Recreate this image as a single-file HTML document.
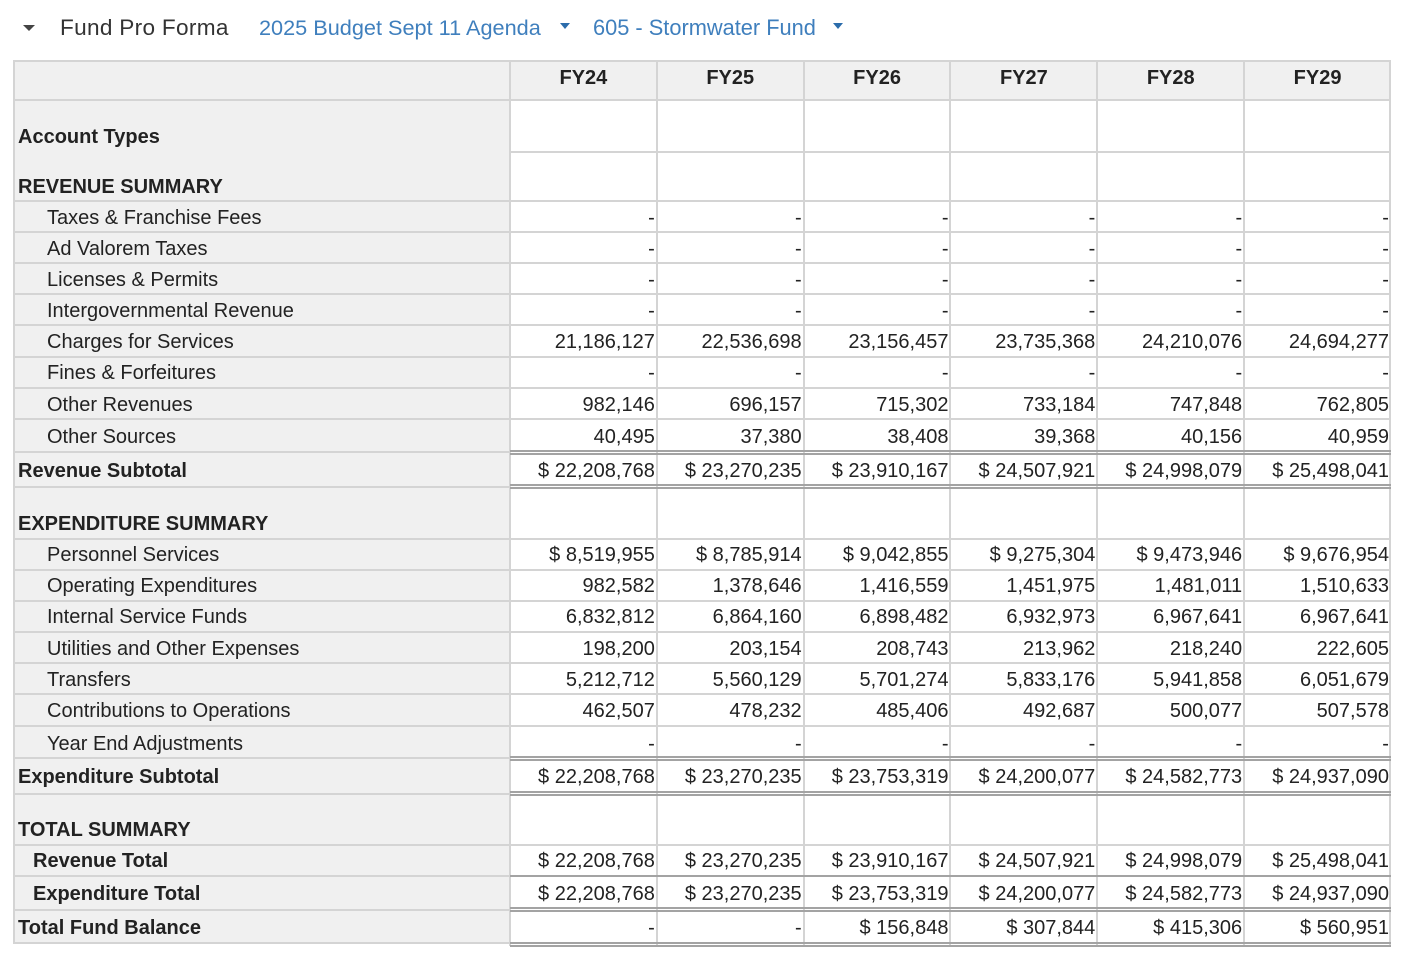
<!DOCTYPE html>
<html><head><meta charset="utf-8">
<style>
html,body{margin:0;padding:0;background:#fff;}
body{width:1410px;height:966px;position:relative;overflow:hidden;font-family:"Liberation Sans",Arial,sans-serif;color:#222;}
.a{position:absolute;}
.hl{position:absolute;height:2px;background:#d4d4d4;}
.vl{position:absolute;width:2px;background:#d4d4d4;}
.dl{position:absolute;left:510px;width:881px;height:2px;background:#a3a3a3;}
.t{position:absolute;height:24px;line-height:24px;font-size:20px;white-space:nowrap;margin-top:1px;}
.b{font-weight:bold;}
.r{position:absolute;left:510px;width:881px;height:24px;line-height:24px;font-size:20px;display:flex;white-space:nowrap;margin-top:1px;}
.r span{flex:0 0 146.83px;box-sizing:border-box;text-align:right;padding-right:2px;}
.h{position:absolute;left:510px;width:881px;height:24px;line-height:24px;font-size:20px;font-weight:bold;display:flex;}
.h span{flex:0 0 146.83px;text-align:center;}
.tri{position:absolute;width:0;height:0;border-left:5px solid transparent;border-right:5px solid transparent;border-top:6px solid #2b6cab;}
</style></head><body>

<!-- header bar -->
<div class="tri" style="left:23px;top:25px;border-top-color:#444;border-left-width:6px;border-right-width:6px;"></div>
<div class="a" style="left:60px;top:14px;font-size:22.6px;line-height:28px;color:#333;letter-spacing:0.3px;">Fund Pro Forma</div>
<div class="a" style="left:259px;top:14px;font-size:21.7px;line-height:28px;color:#3f7fbd;">2025 Budget Sept 11 Agenda</div>
<div class="tri" style="left:560px;top:23px;"></div>
<div class="a" style="left:593px;top:14px;font-size:21.8px;line-height:28px;color:#3f7fbd;">605 - Stormwater Fund</div>
<div class="tri" style="left:833px;top:23px;"></div>

<!-- backgrounds -->
<div class="a" style="left:14px;top:61px;width:1377px;height:39px;background:#f0f0f0;"></div>
<div class="a" style="left:14px;top:61px;width:496px;height:883px;background:#f0f0f0;"></div>

<!-- horizontal light lines -->
<div class="hl" style="left:14px;top:60px;width:1377px;"></div>
<div class="hl" style="left:14px;top:99px;width:1377px;"></div>
<div class="hl" style="left:510px;top:151px;width:881px;"></div>
<div class="hl" style="left:14px;top:200px;width:1377px;"></div>
<div class="hl" style="left:14px;top:231px;width:1377px;"></div>
<div class="hl" style="left:14px;top:262px;width:1377px;"></div>
<div class="hl" style="left:14px;top:293px;width:1377px;"></div>
<div class="hl" style="left:14px;top:324px;width:1377px;"></div>
<div class="hl" style="left:14px;top:356px;width:1377px;"></div>
<div class="hl" style="left:14px;top:387px;width:1377px;"></div>
<div class="hl" style="left:14px;top:418px;width:1377px;"></div>
<div class="hl" style="left:14px;top:451px;width:496px;"></div>
<div class="hl" style="left:14px;top:486px;width:496px;"></div>
<div class="hl" style="left:14px;top:538px;width:1377px;"></div>
<div class="hl" style="left:14px;top:569px;width:1377px;"></div>
<div class="hl" style="left:14px;top:600px;width:1377px;"></div>
<div class="hl" style="left:14px;top:631px;width:1377px;"></div>
<div class="hl" style="left:14px;top:662px;width:1377px;"></div>
<div class="hl" style="left:14px;top:693px;width:1377px;"></div>
<div class="hl" style="left:14px;top:725px;width:1377px;"></div>
<div class="hl" style="left:14px;top:757px;width:496px;"></div>
<div class="hl" style="left:14px;top:793px;width:496px;"></div>
<div class="hl" style="left:14px;top:844px;width:1377px;"></div>
<div class="hl" style="left:14px;top:875px;width:496px;"></div>
<div class="hl" style="left:14px;top:909px;width:496px;"></div>
<div class="hl" style="left:14px;top:942px;width:496px;"></div>

<!-- vertical lines -->
<div class="vl" style="left:13px;top:60px;height:884px;"></div>
<div class="vl" style="left:509px;top:60px;height:886px;"></div>
<div class="vl" style="left:656px;top:60px;height:886px;"></div>
<div class="vl" style="left:803px;top:60px;height:886px;"></div>
<div class="vl" style="left:949px;top:60px;height:886px;"></div>
<div class="vl" style="left:1096px;top:60px;height:886px;"></div>
<div class="vl" style="left:1243px;top:60px;height:886px;"></div>
<div class="vl" style="left:1389px;top:60px;height:886px;"></div>

<!-- dark double lines in data area -->
<div class="dl" style="top:450px;"></div><div class="dl" style="top:453px;"></div>
<div class="dl" style="top:484px;"></div><div class="dl" style="top:487px;"></div>
<div class="dl" style="top:756px;"></div><div class="dl" style="top:759px;"></div>
<div class="dl" style="top:791px;"></div><div class="dl" style="top:794px;"></div>
<div class="dl" style="top:875px;"></div>
<div class="dl" style="top:907px;"></div><div class="dl" style="top:910px;"></div>
<div class="dl" style="top:942px;"></div><div class="dl" style="top:945px;"></div>

<!-- column headers -->
<div class="h" style="top:66px;"><span>FY24</span><span>FY25</span><span>FY26</span><span>FY27</span><span>FY28</span><span>FY29</span></div>

<!-- labels -->
<div class="t b" style="left:18px;top:124px;">Account Types</div>
<div class="t b" style="left:18px;top:174px;">REVENUE SUMMARY</div>
<div class="t" style="left:47px;top:205px;">Taxes &amp; Franchise Fees</div>
<div class="t" style="left:47px;top:236px;">Ad Valorem Taxes</div>
<div class="t" style="left:47px;top:267px;">Licenses &amp; Permits</div>
<div class="t" style="left:47px;top:298px;">Intergovernmental Revenue</div>
<div class="t" style="left:47px;top:329px;">Charges for Services</div>
<div class="t" style="left:47px;top:360px;">Fines &amp; Forfeitures</div>
<div class="t" style="left:47px;top:392px;">Other Revenues</div>
<div class="t" style="left:47px;top:424px;">Other Sources</div>
<div class="t b" style="left:18px;top:458px;">Revenue Subtotal</div>
<div class="t b" style="left:18px;top:511px;">EXPENDITURE SUMMARY</div>
<div class="t" style="left:47px;top:542px;">Personnel Services</div>
<div class="t" style="left:47px;top:573px;">Operating Expenditures</div>
<div class="t" style="left:47px;top:604px;">Internal Service Funds</div>
<div class="t" style="left:47px;top:636px;">Utilities and Other Expenses</div>
<div class="t" style="left:47px;top:667px;">Transfers</div>
<div class="t" style="left:47px;top:698px;">Contributions to Operations</div>
<div class="t" style="left:47px;top:731px;">Year End Adjustments</div>
<div class="t b" style="left:18px;top:764px;">Expenditure Subtotal</div>
<div class="t b" style="left:18px;top:817px;">TOTAL SUMMARY</div>
<div class="t b" style="left:33px;top:848px;">Revenue Total</div>
<div class="t b" style="left:33px;top:881px;">Expenditure Total</div>
<div class="t b" style="left:18px;top:915px;">Total Fund Balance</div>

<!-- data -->
<div class="r" style="top:205px;"><span>-</span><span>-</span><span>-</span><span>-</span><span>-</span><span>-</span></div>
<div class="r" style="top:236px;"><span>-</span><span>-</span><span>-</span><span>-</span><span>-</span><span>-</span></div>
<div class="r" style="top:267px;"><span>-</span><span>-</span><span>-</span><span>-</span><span>-</span><span>-</span></div>
<div class="r" style="top:298px;"><span>-</span><span>-</span><span>-</span><span>-</span><span>-</span><span>-</span></div>
<div class="r" style="top:329px;"><span>21,186,127</span><span>22,536,698</span><span>23,156,457</span><span>23,735,368</span><span>24,210,076</span><span>24,694,277</span></div>
<div class="r" style="top:360px;"><span>-</span><span>-</span><span>-</span><span>-</span><span>-</span><span>-</span></div>
<div class="r" style="top:392px;"><span>982,146</span><span>696,157</span><span>715,302</span><span>733,184</span><span>747,848</span><span>762,805</span></div>
<div class="r" style="top:424px;"><span>40,495</span><span>37,380</span><span>38,408</span><span>39,368</span><span>40,156</span><span>40,959</span></div>
<div class="r" style="top:458px;"><span>$ 22,208,768</span><span>$ 23,270,235</span><span>$ 23,910,167</span><span>$ 24,507,921</span><span>$ 24,998,079</span><span>$ 25,498,041</span></div>

<div class="r" style="top:542px;"><span>$ 8,519,955</span><span>$ 8,785,914</span><span>$ 9,042,855</span><span>$ 9,275,304</span><span>$ 9,473,946</span><span>$ 9,676,954</span></div>
<div class="r" style="top:573px;"><span>982,582</span><span>1,378,646</span><span>1,416,559</span><span>1,451,975</span><span>1,481,011</span><span>1,510,633</span></div>
<div class="r" style="top:604px;"><span>6,832,812</span><span>6,864,160</span><span>6,898,482</span><span>6,932,973</span><span>6,967,641</span><span>6,967,641</span></div>
<div class="r" style="top:636px;"><span>198,200</span><span>203,154</span><span>208,743</span><span>213,962</span><span>218,240</span><span>222,605</span></div>
<div class="r" style="top:667px;"><span>5,212,712</span><span>5,560,129</span><span>5,701,274</span><span>5,833,176</span><span>5,941,858</span><span>6,051,679</span></div>
<div class="r" style="top:698px;"><span>462,507</span><span>478,232</span><span>485,406</span><span>492,687</span><span>500,077</span><span>507,578</span></div>
<div class="r" style="top:731px;"><span>-</span><span>-</span><span>-</span><span>-</span><span>-</span><span>-</span></div>
<div class="r" style="top:764px;"><span>$ 22,208,768</span><span>$ 23,270,235</span><span>$ 23,753,319</span><span>$ 24,200,077</span><span>$ 24,582,773</span><span>$ 24,937,090</span></div>

<div class="r" style="top:848px;"><span>$ 22,208,768</span><span>$ 23,270,235</span><span>$ 23,910,167</span><span>$ 24,507,921</span><span>$ 24,998,079</span><span>$ 25,498,041</span></div>
<div class="r" style="top:881px;"><span>$ 22,208,768</span><span>$ 23,270,235</span><span>$ 23,753,319</span><span>$ 24,200,077</span><span>$ 24,582,773</span><span>$ 24,937,090</span></div>
<div class="r" style="top:915px;"><span>-</span><span>-</span><span>$ 156,848</span><span>$ 307,844</span><span>$ 415,306</span><span>$ 560,951</span></div>

</body></html>
